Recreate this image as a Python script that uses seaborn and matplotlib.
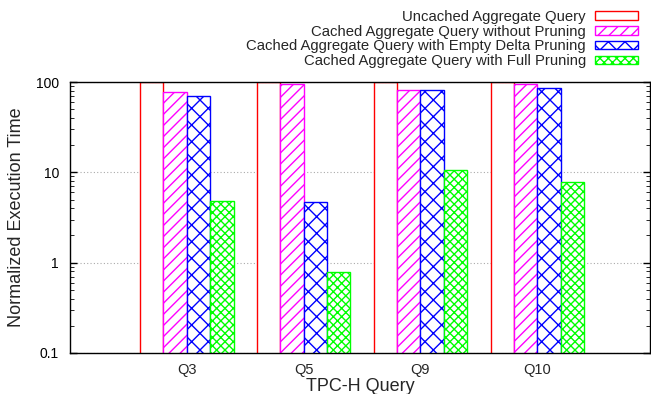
import matplotlib
matplotlib.use("Agg")
import matplotlib.pyplot as plt
from matplotlib.patches import Patch
import seaborn as sns
import pandas as pd
from matplotlib.ticker import LogLocator, FixedLocator, FixedFormatter, NullFormatter

queries = ["Q3", "Q5", "Q9", "Q10"]
series = [
    "Uncached Aggregate Query",
    "Cached Aggregate Query without Pruning",
    "Cached Aggregate Query with Empty Delta Pruning",
    "Cached Aggregate Query with Full Pruning",
]
uncached = [100, 100, 100, 100]
cached_no_prune = [77, 94, 81, 94]
cached_empty_delta = [70.5, 4.7, 81, 85]
cached_full = [4.85, 0.78, 10.5, 7.9]
yticks = [0.1, 1, 10, 100]
ytick_labels = ["0.1", "1", "10", "100"]

colors = ["#ff0000", "#ff00ff", "#0000ff", "#00ff00"]
hatches = [None, "///", "xx", "xxxx"]

rows = []
for s, vals in zip(series, [uncached, cached_no_prune, cached_empty_delta, cached_full]):
    for q, v in zip(queries, vals):
        rows.append({"query": q, "series": s, "value": v})
df = pd.DataFrame(rows)

sns.set_style("white")
plt.rcParams["font.family"] = ["Liberation Sans", "DejaVu Sans"]
plt.rcParams["hatch.linewidth"] = 1.0

fig = plt.figure(figsize=(6.51, 3.94), dpi=100)
ax = fig.add_axes([70 / 651, 1 - 353 / 394, 580 / 651, 271 / 394])
ax.set_yscale("log")

sns.barplot(data=df, x="query", y="value", hue="series", hue_order=series,
            order=queries, palette=colors, saturation=1, width=0.8, ax=ax,
            errorbar=None, legend=False)

for cont, col, h in zip(ax.containers, colors, hatches):
    for bar in cont:
        bar.set_facecolor("white")
        bar.set_edgecolor(col)
        bar.set_linewidth(1.0)
        if h:
            bar.set_hatch(h)

ax.set_ylim(0.1, 100)
ax.set_xlim(-1.0, 3.965)
ax.yaxis.set_major_locator(FixedLocator(yticks))
ax.yaxis.set_major_formatter(FixedFormatter(ytick_labels))
ax.yaxis.set_minor_locator(LogLocator(base=10, subs=range(2, 10)))
ax.yaxis.set_minor_formatter(NullFormatter())
ax.tick_params(axis="y", which="major", direction="in", length=5, width=1,
               left=True, right=True, labelsize=10, colors="black", pad=8)
ax.tick_params(axis="y", which="minor", direction="in", length=3, width=0.7,
               left=True, right=True)
ax.tick_params(axis="x", which="both", length=0, labelsize=10.5, pad=7)
ax.grid(axis="y", which="major", linestyle=(0, (1, 2)), color="#aaaaaa", linewidth=0.8)
ax.set_axisbelow(True)
for sp in ax.spines.values():
    sp.set_color("black")
    sp.set_linewidth(1.0)

ax.set_ylabel("Normalized Execution Time", fontsize=13, labelpad=8)
ax.set_xlabel("TPC-H Query", fontsize=13, labelpad=1)

handles = [Patch(facecolor="white", edgecolor=c, hatch=h, linewidth=1.0)
           for c, h in zip(colors, hatches)]
ax.legend(handles, series, loc="upper right", bbox_to_anchor=(638 / 651, 1 - 10 / 394),
          bbox_transform=fig.transFigure, frameon=False, markerfirst=False,
          fontsize=10.7, handlelength=2.9, handleheight=0.5, handletextpad=0.6,
          labelspacing=0.05, borderpad=0, borderaxespad=0)

fig.savefig("out.png", dpi=100)
